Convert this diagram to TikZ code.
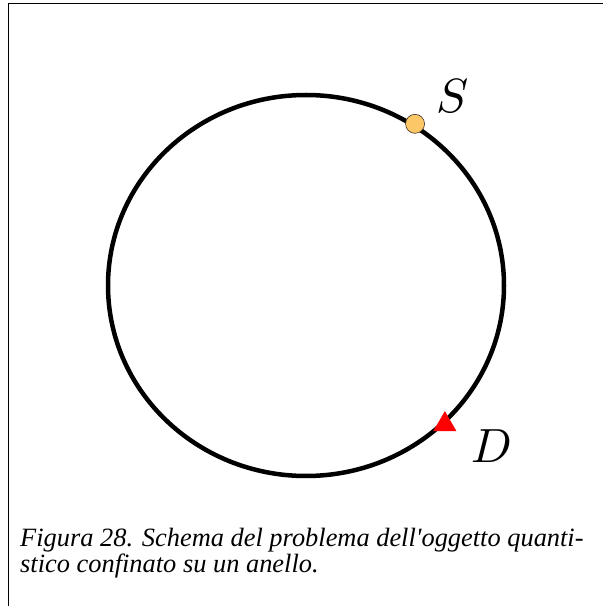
\documentclass[tikz,border=0pt]{standalone}
\usepackage{fontspec}
\setmainfont{Liberation Serif}
\usepackage{graphicx}
\usepackage{tikz}
\usetikzlibrary{positioning,calc,shapes.geometric}
\definecolor{srcFill}{HTML}{FCC867}
\definecolor{srcBd}{HTML}{3A3020}
\definecolor{detFill}{HTML}{FF0000}
\newcommand{\bigmark}[1]{\scalebox{4.8}{$#1$}}
\tikzset{
  ring/.style={
    ellipse, draw=black, line width=4.5pt,
    minimum width=396pt, minimum height=381pt,
    inner sep=0pt
  },
  source/.style={
    circle, fill=srcFill, draw=srcBd, line width=0.6pt,
    minimum size=19pt, inner sep=0pt
  },
  detector/.style={
    regular polygon, regular polygon sides=3,
    fill=detFill, minimum size=26.6pt, inner sep=0pt
  },
  mark label/.style={font=\fontsize{10}{12}\selectfont, inner sep=0pt},
  caption/.style={font=\fontsize{26.4}{27}\selectfont\itshape, align=left, inner sep=0pt},
  frame/.style={draw=black, line width=1pt}
}
\begin{document}
\begin{tikzpicture}[x=1pt, y=1pt]
  \useasboundingbox (0,0) rectangle (603,606);
  % --- page frame (open at right and bottom)
  \draw[frame] (8,0) -- (8,602) -- (603,602);

  % --- the ring
  \node[ring] (ring) at (306,320.5) {};

  % source and detector on the ring
  \node[source]   (src) at (ring.56)  {};
  \node[detector] (det) at (ring.-45) {};

  % labels
  \node[mark label, above right=4pt and 14pt of src]  (slab) {\bigmark{S}};
  \node[mark label, below right=-2pt and 19pt of det] (dlab) {\bigmark{D}};

  % --- caption
  \node[caption, anchor=base west] (cap) at (20,33)
        {Figura 28. Schema del problema dell\textquotesingle oggetto quanti-\\stico confinato su un anello.};
\end{tikzpicture}
\end{document}
